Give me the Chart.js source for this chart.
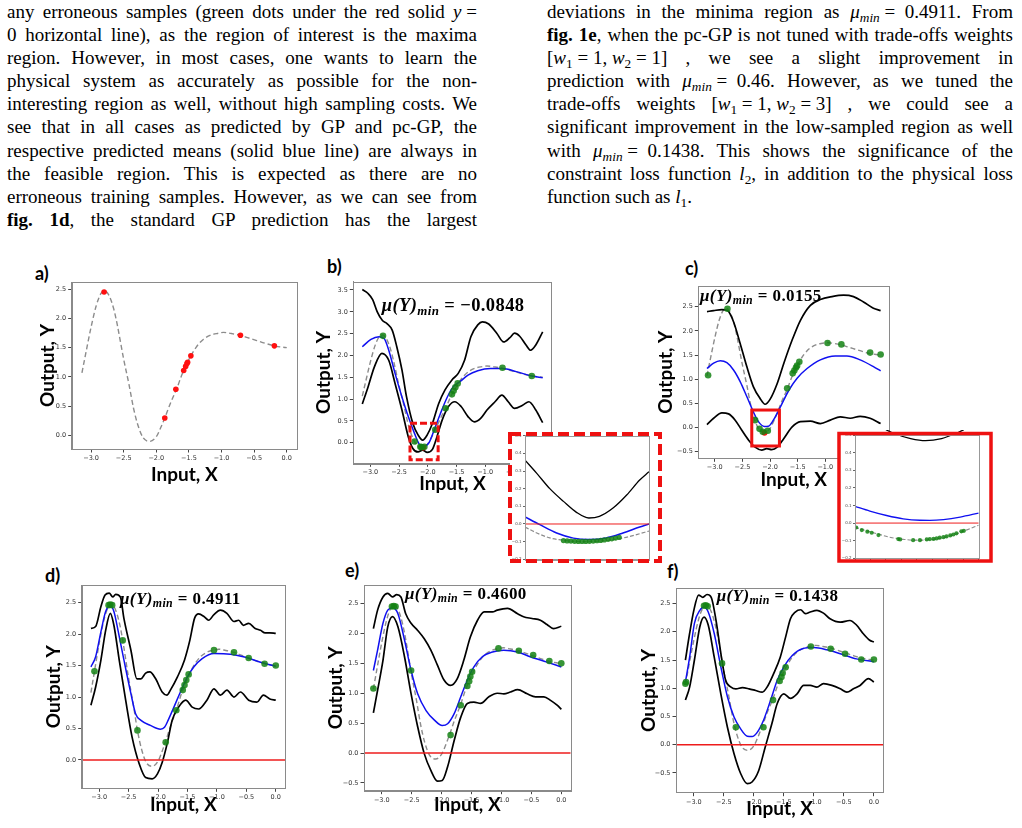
<!DOCTYPE html>
<html><head><meta charset="utf-8">
<script src="https://cdn.jsdelivr.net/npm/chart.js@4/dist/chart.umd.min.js"></script>
<style>
body{margin:0;background:#fff;width:1022px;height:828px;position:relative;overflow:hidden;font-family:'Liberation Serif','Times New Roman',serif;color:#000;}
.col{position:absolute;top:0;font-size:19px;line-height:23.1px;}
.ln{height:23.1px;text-align:justify;text-align-last:justify;}
.ln.last{text-align:left;text-align-last:left;}
.m{display:inline-block;white-space:nowrap;}
sub{font-size:0.7em;line-height:0;vertical-align:-0.28em;}
.plab{position:absolute;font-family:Lato,sans-serif;font-weight:bold;font-size:18px;line-height:18px;}
.ann{position:absolute;font-family:'Liberation Serif',serif;font-weight:bold;white-space:nowrap;line-height:1;letter-spacing:0.4px;}
canvas{position:absolute;}
</style></head><body>
<div class="col" style="left:7px;width:470px;">
<div class="ln">any erroneous samples (green dots under the red solid <span class="m"><i>y</i> =</span></div>
<div class="ln">0 horizontal line), as the region of interest is the maxima</div>
<div class="ln">region. However, in most cases, one wants to learn the</div>
<div class="ln">physical system as accurately as possible for the non-</div>
<div class="ln">interesting region as well, without high sampling costs. We</div>
<div class="ln">see that in all cases as predicted by GP and pc-GP, the</div>
<div class="ln">respective predicted means (solid blue line) are always in</div>
<div class="ln">the feasible region. This is expected as there are no</div>
<div class="ln">erroneous training samples. However, as we can see from</div>
<div class="ln"><b>fig. 1d</b>, the standard GP prediction has the largest</div>
</div>
<div class="col" style="left:547px;width:466px;">
<div class="ln">deviations in the minima region as <span class="m"><i>μ</i><sub><i>min</i></sub> = &nbsp;0.4911.</span> From</div>
<div class="ln"><b>fig. 1e</b>, when the pc-GP is not tuned with trade-offs weights</div>
<div class="ln"><span class="m">[<i>w</i><sub>1</sub> = 1, <i>w</i><sub>2</sub> = 1]</span> , we see a slight improvement in</div>
<div class="ln">prediction with <span class="m"><i>μ</i><sub><i>min</i></sub> = &nbsp;0.46.</span> However, as we tuned the</div>
<div class="ln">trade-offs weights <span class="m">[<i>w</i><sub>1</sub> = 1, <i>w</i><sub>2</sub> = 3]</span> , we could see a</div>
<div class="ln">significant improvement in the low-sampled region as well</div>
<div class="ln">with <span class="m"><i>μ</i><sub><i>min</i></sub> = &nbsp;0.1438.</span> This shows the significance of the</div>
<div class="ln">constraint loss function <span class="m"><i>l</i><sub>2</sub>,</span> in addition to the physical loss</div>
<div class="ln last">function such as <i>l</i><sub>1</sub>.</div>
</div>

<div class="plab" style="left:35px;top:264px;">a)</div>
<div class="plab" style="left:327px;top:257px;">b)</div>
<div class="plab" style="left:685px;top:259px;">c)</div>
<div class="plab" style="left:45px;top:566px;">d)</div>
<div class="plab" style="left:345px;top:561px;">e)</div>
<div class="plab" style="left:667px;top:562px;">f)</div>

<script>
// ---------- data ----------
const xTicks = [-3.0, -2.5, -2.0, -1.5, -1.0, -0.5, 0.0];
const yTicksA = [0.0, 0.5, 1.0, 1.5, 2.0, 2.5];
const yTicksB = [0.0, 0.5, 1.0, 1.5, 2.0, 2.5, 3.0, 3.5];
const yTicksC = [-0.5, 0.0, 0.5, 1.0, 1.5, 2.0, 2.5];
const yTicksD = [0.0, 0.5, 1.0, 1.5, 2.0, 2.5];
const yTicksEF = [-0.5, 0.0, 0.5, 1.0, 1.5, 2.0, 2.5];
const insetYTicks = [-0.2, -0.1, 0.0, 0.1, 0.2, 0.3, 0.4, 0.5];
const insetXTicks = [-2.2, -2.175, -2.15, -2.125, -2.1, -2.075, -2.05, -2.025, -2.0];

const trueFn = [[-3.14,1.07],[-3.08,1.41],[-3.0,1.85],[-2.92,2.22],[-2.85,2.42],[-2.79,2.47],[-2.72,2.38],[-2.65,2.15],[-2.6,1.9],[-2.5,1.3],[-2.42,0.88],[-2.35,0.47],[-2.28,0.17],[-2.2,-0.04],[-2.1,-0.1],[-2.0,-0.02],[-1.93,0.14],[-1.87,0.3],[-1.78,0.56],[-1.69,0.79],[-1.6,1.06],[-1.53,1.23],[-1.47,1.36],[-1.38,1.52],[-1.28,1.64],[-1.15,1.72],[-1.05,1.745],[-0.97,1.76],[-0.85,1.74],[-0.71,1.71],[-0.6,1.67],[-0.46,1.62],[-0.32,1.57],[-0.19,1.53],[-0.08,1.51],[0,1.5]];

const aDots = [[-2.8,2.45],[-1.87,0.3],[-1.7,0.79],[-1.58,1.11],[-1.55,1.18],[-1.53,1.23],[-1.52,1.25],[-1.47,1.36],[-0.71,1.71],[-0.19,1.53]];

const bUpper = [[-3.14,3.51],[-3.04,3.42],[-2.96,3.28],[-2.88,3.0],[-2.79,2.8],[-2.71,2.73],[-2.62,2.58],[-2.54,2.2],[-2.45,1.67],[-2.37,1.05],[-2.26,0.44],[-2.17,0.18],[-2.09,0.06],[-2.01,0.18],[-1.92,0.44],[-1.81,0.9],[-1.7,1.21],[-1.58,1.44],[-1.47,1.59],[-1.36,1.89],[-1.25,2.43],[-1.13,2.7],[-1.05,2.77],[-0.94,2.72],[-0.8,2.51],[-0.68,2.31],[-0.57,2.41],[-0.49,2.51],[-0.4,2.44],[-0.29,2.24],[-0.21,2.12],[-0.12,2.24],[0,2.54]];
const bLower = [[-3.14,0.89],[-3.04,1.28],[-2.93,1.74],[-2.8,2.05],[-2.68,1.89],[-2.57,1.36],[-2.45,0.75],[-2.34,0.14],[-2.26,-0.13],[-2.17,-0.21],[-2.09,-0.17],[-2.01,-0.22],[-1.92,-0.15],[-1.84,0.14],[-1.75,0.52],[-1.64,0.83],[-1.53,0.94],[-1.42,0.83],[-1.3,0.6],[-1.19,0.48],[-1.08,0.56],[-0.97,0.75],[-0.83,0.94],[-0.71,1.09],[-0.6,0.94],[-0.49,0.79],[-0.35,0.86],[-0.24,0.94],[-0.12,0.75],[0,0.46]];
const bMean = [[-3.14,2.2],[-2.99,2.37],[-2.85,2.43],[-2.76,2.39],[-2.68,2.12],[-2.57,1.59],[-2.45,1.05],[-2.34,0.6],[-2.23,0.21],[-2.15,-0.03],[-2.08,-0.085],[-1.98,0.0],[-1.89,0.29],[-1.78,0.67],[-1.67,1.02],[-1.56,1.28],[-1.44,1.4],[-1.3,1.55],[-1.13,1.65],[-0.91,1.7],[-0.7,1.7],[-0.46,1.63],[-0.19,1.53],[0,1.49]];
const bDots = [[-2.78,2.45],[-2.23,0.03],[-2.13,-0.09],[-2.11,-0.1],[-2.06,-0.09],[-1.87,0.3],[-1.69,0.79],[-1.58,1.11],[-1.55,1.19],[-1.52,1.27],[-1.48,1.36],[-0.7,1.72],[-0.19,1.53]];
const bBad = [[-2.08,-0.11]];
const bZoom = [[-2.31,-1.82],[-0.39,0.445]];

const cUpper = [[-3.14,2.4],[-3.02,2.42],[-2.87,2.44],[-2.77,2.42],[-2.66,2.19],[-2.54,1.74],[-2.42,1.26],[-2.3,0.84],[-2.18,0.6],[-2.09,0.48],[-2.0,0.58],[-1.87,0.91],[-1.75,1.33],[-1.6,1.81],[-1.45,2.22],[-1.27,2.53],[-1.09,2.65],[-0.88,2.71],[-0.67,2.74],[-0.49,2.71],[-0.31,2.6],[-0.13,2.47],[0,2.42]];
const cLower = [[-3.14,0.06],[-3.02,0.19],[-2.87,0.3],[-2.75,0.28],[-2.63,0.15],[-2.51,-0.06],[-2.39,-0.26],[-2.27,-0.41],[-2.15,-0.47],[-2.06,-0.44],[-1.97,-0.46],[-1.87,-0.41],[-1.75,-0.23],[-1.6,0.01],[-1.45,0.12],[-1.27,0.13],[-1.09,0.08],[-0.91,0.15],[-0.73,0.22],[-0.55,0.19],[-0.37,0.23],[-0.19,0.19],[0,0.08]];
const cMean = [[-3.14,1.22],[-3.02,1.33],[-2.9,1.38],[-2.78,1.34],[-2.66,1.19],[-2.54,0.95],[-2.42,0.64],[-2.3,0.32],[-2.21,0.12],[-2.1,0.02],[-2.03,0.025],[-1.94,0.15],[-1.81,0.43],[-1.66,0.77],[-1.51,1.02],[-1.33,1.22],[-1.09,1.4],[-0.82,1.48],[-0.61,1.48],[-0.37,1.4],[-0.13,1.26],[0,1.17]];
const cDots = [[-3.12,1.08],[-2.77,2.46],[-2.27,0.15],[-2.19,-0.03],[-2.13,-0.09],[-2.04,-0.07],[-1.69,0.81],[-1.59,1.12],[-1.56,1.18],[-1.53,1.24],[-1.51,1.28],[-1.47,1.36],[-0.96,1.75],[-0.71,1.72],[-0.19,1.55],[0,1.51]];
const cBad = [[-2.1,-0.11]];
const cZoom = [[-2.33,-1.83],[-0.385,0.36]];

const dUpper = [[-3.14,2.09],[-3.06,2.12],[-2.97,2.44],[-2.9,2.62],[-2.83,2.65],[-2.77,2.59],[-2.72,2.63],[-2.64,2.59],[-2.58,2.25],[-2.46,1.74],[-2.36,1.29],[-2.29,1.29],[-2.21,1.38],[-2.14,1.4],[-2.04,1.29],[-1.93,1.08],[-1.85,1.03],[-1.79,1.11],[-1.67,1.32],[-1.55,1.59],[-1.46,1.9],[-1.38,2.25],[-1.31,2.32],[-1.22,2.28],[-1.14,2.22],[-1.05,2.31],[-0.94,2.38],[-0.83,2.33],[-0.71,2.2],[-0.63,2.22],[-0.55,2.14],[-0.46,2.17],[-0.35,2.09],[-0.26,2.06],[-0.18,2.02],[-0.1,2.02],[0,2.01]];
const dLower = [[-3.14,0.87],[-3.06,1.16],[-2.97,1.59],[-2.89,2.06],[-2.81,2.33],[-2.75,2.14],[-2.66,1.59],[-2.55,0.95],[-2.44,0.36],[-2.32,-0.06],[-2.21,-0.28],[-2.1,-0.3],[-2.01,-0.22],[-1.93,-0.04],[-1.84,0.28],[-1.76,0.63],[-1.65,0.84],[-1.53,0.95],[-1.42,0.84],[-1.31,0.81],[-1.17,0.95],[-1.05,1.13],[-0.94,1.03],[-0.83,1.11],[-0.71,1.0],[-0.6,1.08],[-0.46,0.95],[-0.32,0.92],[-0.21,1.03],[-0.1,0.97],[0,0.95]];
const dMean = [[-3.14,1.48],[-3.06,1.64],[-2.97,2.04],[-2.89,2.36],[-2.81,2.45],[-2.75,2.36],[-2.68,2.06],[-2.58,1.59],[-2.46,1.05],[-2.38,0.73],[-2.29,0.63],[-2.13,0.55],[-1.96,0.49],[-1.89,0.52],[-1.82,0.65],[-1.73,0.84],[-1.62,1.08],[-1.5,1.32],[-1.39,1.48],[-1.25,1.61],[-1.05,1.69],[-0.77,1.68],[-0.55,1.64],[-0.21,1.54],[0,1.49]];
const dDots = [[-3.08,1.41],[-2.84,2.46],[-2.81,2.47],[-2.78,2.46],[-2.6,1.9],[-2.35,0.47],[-1.87,0.28],[-1.69,0.79],[-1.58,1.11],[-1.55,1.19],[-1.52,1.27],[-1.48,1.36],[-1.05,1.745],[-0.71,1.71],[-0.46,1.62],[-0.19,1.53],[0,1.5]];

const eUpper = [[-3.14,2.08],[-3.07,2.39],[-2.98,2.61],[-2.9,2.67],[-2.82,2.61],[-2.75,2.65],[-2.68,2.61],[-2.6,2.33],[-2.51,2.17],[-2.4,2.05],[-2.29,1.91],[-2.18,1.72],[-2.07,1.47],[-1.96,1.22],[-1.85,1.13],[-1.74,1.24],[-1.63,1.55],[-1.52,1.94],[-1.4,2.22],[-1.29,2.36],[-1.15,2.36],[-1.07,2.39],[-0.9,2.42],[-0.73,2.33],[-0.63,2.28],[-0.49,2.25],[-0.35,2.22],[-0.24,2.15],[-0.13,2.08],[0,2.12]];
const eLower = [[-3.14,0.67],[-3.07,1.05],[-2.98,1.55],[-2.9,2.11],[-2.82,2.28],[-2.73,2.11],[-2.62,1.61],[-2.51,0.99],[-2.4,0.44],[-2.29,-0.01],[-2.18,-0.29],[-2.07,-0.47],[-1.99,-0.46],[-1.9,-0.23],[-1.79,0.21],[-1.68,0.6],[-1.57,0.83],[-1.46,0.85],[-1.35,0.83],[-1.21,0.94],[-1.07,1.0],[-0.96,0.99],[-0.85,1.02],[-0.73,1.06],[-0.57,0.99],[-0.43,0.94],[-0.29,0.94],[-0.18,0.88],[-0.07,0.8],[0,0.73]];
const eMean = [[-3.14,1.38],[-3.07,1.72],[-2.98,2.17],[-2.9,2.39],[-2.82,2.43],[-2.73,2.33],[-2.62,1.89],[-2.51,1.38],[-2.4,0.99],[-2.26,0.71],[-2.12,0.55],[-1.99,0.46],[-1.9,0.49],[-1.79,0.66],[-1.68,0.94],[-1.57,1.22],[-1.46,1.44],[-1.32,1.61],[-1.15,1.69],[-0.96,1.72],[-0.73,1.69],[-0.52,1.61],[-0.24,1.52],[0,1.44]];
const eDots = [[-3.14,1.08],[-2.83,2.45],[-2.8,2.46],[-2.77,2.45],[-2.51,1.38],[-1.85,0.3],[-1.68,0.8],[-1.57,1.12],[-1.54,1.2],[-1.52,1.28],[-1.49,1.36],[-1.05,1.75],[-0.71,1.71],[-0.47,1.64],[-0.2,1.54],[0,1.5]];

const fUpper = [[-3.14,1.5],[-3.07,1.97],[-3.0,2.38],[-2.92,2.65],[-2.85,2.61],[-2.78,2.66],[-2.71,2.61],[-2.63,2.2],[-2.54,1.55],[-2.47,1.14],[-2.38,1.02],[-2.3,0.99],[-2.19,1.01],[-2.08,0.99],[-1.97,0.96],[-1.86,0.93],[-1.78,1.02],[-1.67,1.26],[-1.56,1.55],[-1.47,1.91],[-1.39,2.23],[-1.31,2.35],[-1.22,2.39],[-1.14,2.32],[-1.06,2.35],[-0.95,2.38],[-0.84,2.33],[-0.73,2.23],[-0.56,2.17],[-0.4,2.2],[-0.29,2.12],[-0.18,1.97],[-0.07,1.85],[0,1.82]];
const fLower = [[-3.14,0.79],[-3.07,1.02],[-2.99,1.5],[-2.9,2.09],[-2.83,2.26],[-2.76,2.12],[-2.66,1.55],[-2.55,0.9],[-2.44,0.31],[-2.33,-0.16],[-2.22,-0.51],[-2.11,-0.69],[-2.03,-0.66],[-1.92,-0.46],[-1.81,-0.04],[-1.7,0.37],[-1.61,0.73],[-1.5,0.9],[-1.39,0.82],[-1.28,0.9],[-1.17,1.05],[-1.06,1.05],[-0.95,1.02],[-0.84,1.08],[-0.7,1.05],[-0.56,0.99],[-0.45,0.93],[-0.34,0.99],[-0.23,1.05],[-0.09,1.17],[0,1.11]];
const fMean = [[-3.14,1.11],[-3.07,1.55],[-2.99,2.15],[-2.9,2.38],[-2.83,2.44],[-2.76,2.35],[-2.66,1.97],[-2.55,1.38],[-2.44,0.85],[-2.33,0.49],[-2.22,0.28],[-2.11,0.15],[-2.03,0.144],[-1.95,0.21],[-1.84,0.43],[-1.72,0.79],[-1.61,1.14],[-1.5,1.38],[-1.36,1.58],[-1.19,1.7],[-1.0,1.72],[-0.78,1.68],[-0.56,1.61],[-0.29,1.52],[0,1.47]];
const fDots = [[-3.14,1.08],[-3.13,1.11],[-2.83,2.46],[-2.8,2.47],[-2.77,2.45],[-2.53,1.44],[-2.3,0.31],[-1.84,0.31],[-1.68,0.79],[-1.57,1.13],[-1.54,1.2],[-1.52,1.27],[-1.47,1.37],[-1.05,1.74],[-0.72,1.7],[-0.48,1.61],[-0.21,1.51],[0,1.51]];

// insets (zoom on the minimum, x from -2.2 to -2.0)
const ibUpper = [[-2.2,0.362],[-2.181,0.287],[-2.16,0.2],[-2.138,0.128],[-2.117,0.066],[-2.097,0.034],[-2.08,0.043],[-2.058,0.09],[-2.036,0.164],[-2.015,0.249],[-2.0,0.296]];
const ibMean = [[-2.2,0.04],[-2.176,-0.004],[-2.149,-0.051],[-2.122,-0.08],[-2.097,-0.088],[-2.069,-0.079],[-2.042,-0.051],[-2.015,-0.017],[-2.0,0.0]];
const ibTrue = [[-2.2,-0.017],[-2.181,-0.051],[-2.16,-0.079],[-2.138,-0.092],[-2.12,-0.098],[-2.1,-0.1],[-2.08,-0.097],[-2.06,-0.09],[-2.04,-0.078],[-2.02,-0.06],[-2.0,-0.04]];
const ibDots = [[-2.138,-0.094],[-2.132,-0.096],[-2.126,-0.097],[-2.12,-0.098],[-2.114,-0.099],[-2.108,-0.099],[-2.102,-0.099],[-2.096,-0.098],[-2.09,-0.097],[-2.084,-0.095],[-2.078,-0.093],[-2.072,-0.09],[-2.066,-0.087],[-2.06,-0.084],[-2.054,-0.08],[-2.048,-0.076]];
const icUpper = [[-2.15,0.53],[-2.138,0.51],[-2.11,0.48],[-2.086,0.468],[-2.06,0.48],[-2.036,0.51],[-2.024,0.53]];
const icMean = [[-2.2,0.095],[-2.176,0.068],[-2.149,0.043],[-2.122,0.024],[-2.095,0.016],[-2.079,0.0155],[-2.057,0.02],[-2.03,0.034],[-2.0,0.057]];
const icTrue = [[-2.2,-0.025],[-2.18,-0.045],[-2.16,-0.065],[-2.14,-0.083],[-2.12,-0.093],[-2.1,-0.097],[-2.08,-0.095],[-2.06,-0.085],[-2.04,-0.066],[-2.02,-0.04],[-2.0,-0.012]];
const icDots = [[-2.198,-0.025],[-2.189,-0.04],[-2.18,-0.049],[-2.173,-0.055],[-2.162,-0.068],[-2.13,-0.091],[-2.127,-0.093],[-2.106,-0.097],[-2.095,-0.097],[-2.084,-0.093],[-2.079,-0.091],[-2.073,-0.09],[-2.068,-0.087],[-2.063,-0.083],[-2.057,-0.08],[-2.052,-0.076],[-2.046,-0.07],[-2.041,-0.065],[-2.036,-0.058],[-2.028,-0.047],[-2.024,-0.044]];

const annTexts = ['−0.0848','0.0155','0.4911','0.4600','0.1438'];

// ---------- rendering ----------
const X_MIN = -3.297, X_MAX = 0.157;
const fmt = v => (Math.abs(v) < 1e-9 ? 0 : v).toFixed(1).replace('-', '\u2212');
const pts = arr => arr.map(([x, y]) => ({x, y}));

const framePlugin = {
  id: 'frame',
  beforeDraw(chart, args, o) {
    if (o.bg) { const c = chart.ctx; c.save(); c.fillStyle = '#fff'; c.fillRect(o.bg[0], o.bg[1], o.bg[2], o.bg[3]); c.restore(); }
  },
  afterDatasetsDraw(chart, args, o) {
    const c = chart.ctx, a = chart.chartArea;
    c.save();
    c.strokeStyle = o.color || '#8a8a8a'; c.lineWidth = 1;
    c.strokeRect(Math.round(a.left) + 0.5, Math.round(a.top) + 0.5, Math.round(a.right - a.left), Math.round(a.bottom - a.top));
    if (o.zoom) {
      const sx = chart.scales.x, sy = chart.scales.y;
      const x0 = sx.getPixelForValue(o.zoom[0][0]), x1 = sx.getPixelForValue(o.zoom[0][1]);
      const y0 = sy.getPixelForValue(o.zoom[1][1]), y1 = sy.getPixelForValue(o.zoom[1][0]);
      c.strokeStyle = '#ee1111'; c.lineWidth = 3; c.setLineDash(o.zoomDash || []);
      c.strokeRect(x0, y0, x1 - x0, y1 - y0);
    }
    c.restore();
  },
  afterDraw(chart, args, o) {
    if (o.border) {
      const c = chart.ctx, b = o.border;
      c.save(); c.strokeStyle = '#ee1111'; c.lineWidth = b[4]; c.setLineDash(b[5] || []);
      c.strokeRect(b[0], b[1], b[2], b[3]); c.restore();
    }
  }
};
Chart.register(framePlugin);

function line(data, color, width, order, extra) {
  return Object.assign({type: 'line', data: pts(data), borderColor: color, borderWidth: width, pointRadius: 0,
    cubicInterpolationMode: 'monotone', fill: false, order}, extra || {});
}
function dots(data, color, r, order) {
  return {type: 'line', data: pts(data), showLine: false, pointRadius: r, pointBackgroundColor: color,
    pointBorderWidth: 0, borderColor: color, order};
}
function zeroLine(x0, x1, w) {
  return line([[x0, 0], [x1, 0]], '#ee1c1c', w, 1, {cubicInterpolationMode: 'default', tension: 0});
}

function mkCanvas(left, top, w, h, z) {
  const cv = document.createElement('canvas');
  cv.width = w; cv.height = h;
  cv.style.left = left + 'px'; cv.style.top = top + 'px'; cv.style.zIndex = z;
  document.body.appendChild(cv);
  return cv;
}

function panel(p) {
  const left = Math.round(p.yTitleCx - 12), top = Math.round(p.box.t - 10);
  const right = Math.round(p.box.r + 14), bottom = Math.round(p.xTitleCy + 12);
  const W = right - left, H = bottom - top;
  const cv = mkCanvas(left, top, W, H, 1);
  const tickFont = {family: 'DejaVu Sans', size: 6.5};
  const titleFont = {family: 'Lato', weight: 'bold', size: 19};
  new Chart(cv, {
    type: 'line',
    data: {datasets: p.datasets},
    options: {
      responsive: false, animation: false, devicePixelRatio: 1,
      layout: {padding: {left: 0, top: p.box.t - top, right: right - p.box.r, bottom: 0}},
      plugins: {legend: {display: false}, tooltip: {enabled: false},
        frame: {zoom: p.zoom, zoomDash: p.zoomDash}},
      scales: {
        x: {type: 'linear', min: X_MIN, max: X_MAX,
          afterBuildTicks: s => { s.ticks = xTicks.map(v => ({value: v})); },
          afterFit: s => { s.height = bottom - p.box.b; },
          ticks: {font: tickFont, color: '#333', padding: 2, maxRotation: 0, autoSkip: false, callback: v => fmt(v)},
          grid: {display: true, drawOnChartArea: false, tickLength: 3.5, color: '#444'},
          border: {display: true, color: '#8a8a8a'},
          title: {display: true, text: 'Input, X', font: titleFont, color: '#000', padding: {top: 0, bottom: 0.6}}},
        y: {type: 'linear', min: p.yMin, max: p.yMax,
          afterBuildTicks: s => { s.ticks = p.yTicks.map(v => ({value: v})); },
          afterFit: s => { s.width = p.box.l - left; },
          ticks: {font: tickFont, color: '#333', padding: 2, autoSkip: false, callback: v => fmt(v)},
          grid: {display: true, drawOnChartArea: false, tickLength: 3.5, color: '#444'},
          border: {display: true, color: '#8a8a8a'},
          title: {display: true, text: 'Output, Y', font: titleFont, color: '#000', padding: {top: 0.6, bottom: 0}}}
      }
    }
  });
}

function inset(p) {
  const cv = mkCanvas(p.left, p.top, p.W, p.H, 5);
  const tickFont = {family: 'DejaVu Sans', size: 4};
  new Chart(cv, {
    type: 'line',
    data: {datasets: p.datasets},
    options: {
      responsive: false, animation: false, devicePixelRatio: 1,
      layout: {padding: {left: 0, top: p.box.t - p.top, right: p.left + p.W - p.box.r, bottom: 0}},
      plugins: {legend: {display: false}, tooltip: {enabled: false},
        frame: {bg: p.bg, border: p.border, color: '#999'}},
      scales: {
        x: {type: 'linear', min: -2.2, max: -2.0,
          afterBuildTicks: s => { s.ticks = insetXTicks.map(v => ({value: v})); },
          afterFit: s => { s.height = p.top + p.H - p.box.b; },
          ticks: {display: p.xTickMarks, font: tickFont, callback: () => ''},
          grid: {display: p.xTickMarks, drawOnChartArea: false, tickLength: 2.5, color: '#666'},
          border: {display: true, color: '#999'}},
        y: {type: 'linear', min: -0.2, max: 0.5,
          afterBuildTicks: s => { s.ticks = insetYTicks.map(v => ({value: v})); },
          afterFit: s => { s.width = p.box.l - p.left; },
          ticks: {font: tickFont, color: '#444', padding: 1.5, autoSkip: false, callback: v => fmt(v)},
          grid: {display: true, drawOnChartArea: false, tickLength: 2, color: '#666'},
          border: {display: true, color: '#999'}}
      }
    }
  });
}

const GRAY = '#8c8c8c', BLUE = '#1010f0', GREEN = 'rgba(20,130,20,0.85)', DASH = {borderDash: [5, 3]};

// a)
panel({box: {l: 71.7, t: 282, r: 297, b: 449}, yMin: -0.23, yMax: 2.62, yTicks: yTicksA, yTitleCx: 47.5, xTitleCy: 475,
  datasets: [line(trueFn, GRAY, 1.4, 4, DASH), dots(aDots, '#ff1010', 2.8, 0)]});
// b)
panel({box: {l: 353.3, t: 281.7, r: 551.7, b: 463.3}, yMin: -0.47, yMax: 3.69, yTicks: yTicksB, yTitleCx: 324, xTitleCy: 484,
  zoom: bZoom, zoomDash: [7, 3],
  datasets: [line(trueFn, GRAY, 1.4, 5, DASH), line(bUpper, '#000', 1.7, 3), line(bLower, '#000', 1.7, 3),
    line(bMean, BLUE, 1.5, 2), dots(bBad, '#ff1010', 3, 1), dots(bDots, GREEN, 3.3, 0)]});
// c)
panel({box: {l: 698.3, t: 286, r: 889.3, b: 458.3}, yMin: -0.64, yMax: 2.93, yTicks: yTicksC, yTitleCx: 665.7, xTitleCy: 480,
  zoom: cZoom, zoomDash: [],
  datasets: [line(trueFn, GRAY, 1.4, 5, DASH), line(cUpper, '#000', 1.7, 3), line(cLower, '#000', 1.7, 3),
    line(cMean, BLUE, 1.5, 2), dots(cBad, '#ff1010', 3, 1), dots(cDots, GREEN, 3.3, 0)]});
// d)
panel({box: {l: 81.7, t: 585, r: 285, b: 788.3}, yMin: -0.45, yMax: 2.78, yTicks: yTicksD, yTitleCx: 54, xTitleCy: 805,
  datasets: [line(trueFn, GRAY, 1.4, 5, DASH), line(dUpper, '#000', 1.7, 3), line(dLower, '#000', 1.7, 3),
    line(dMean, BLUE, 1.5, 2), zeroLine(X_MIN, X_MAX, 1.4), dots(dDots, GREEN, 3.3, 0)]});
// e)
panel({box: {l: 364, t: 585, r: 570.7, b: 790.7}, yMin: -0.63, yMax: 2.81, yTicks: yTicksEF, yTitleCx: 335.8, xTitleCy: 805,
  datasets: [line(trueFn, GRAY, 1.4, 5, DASH), line(eUpper, '#000', 1.7, 3), line(eLower, '#000', 1.7, 3),
    line(eMean, BLUE, 1.5, 2), zeroLine(X_MIN, X_MAX, 1.4), dots(eDots, GREEN, 3.3, 0)]});
// f)
panel({box: {l: 676, t: 588.3, r: 883.3, b: 792.7}, yMin: -0.85, yMax: 2.77, yTicks: yTicksEF, yTitleCx: 649, xTitleCy: 809,
  datasets: [line(trueFn, GRAY, 1.4, 5, DASH), line(fUpper, '#000', 1.7, 3), line(fLower, '#000', 1.7, 3),
    line(fMean, BLUE, 1.5, 2), zeroLine(X_MIN, X_MAX, 1.4), dots(fDots, GREEN, 3.3, 0)]});

// inset for b (dashed red frame)
inset({left: 506, top: 430, W: 158, H: 135, box: {l: 525, t: 435.7, r: 649, b: 559.3}, xTickMarks: false,
  bg: [4, 4, 150, 127], border: [4, 4, 150, 127, 4, [11, 5]],
  datasets: [line(ibTrue, GRAY, 1.2, 5, {borderDash: [4, 2]}), line(ibUpper, '#000', 1.3, 3), line(ibMean, BLUE, 1.5, 2),
    zeroLine(-2.2, -2.0, 1), dots(ibDots, GREEN, 2.6, 0)]});
// inset for c (solid red frame)
inset({left: 835, top: 429, W: 160, H: 136, box: {l: 855, t: 435, r: 978.7, b: 558.3}, xTickMarks: true,
  bg: [4, 4.5, 152, 127.5], border: [4, 4.5, 152, 127.5, 3.5, []],
  datasets: [line(icTrue, GRAY, 1.1, 5, {borderDash: [4, 2]}), line(icUpper, '#000', 1.3, 3, {clip: {left: 0, top: 5, right: 0, bottom: 0}}),
    line(icMean, BLUE, 1.3, 2), zeroLine(-2.2, -2.0, 1), dots(icDots, GREEN, 2.1, 0)]});

// μ(Y)min annotations
const annPos = [[381.7, 296, 18.5], [700, 286.5, 17], [120, 589.5, 17], [405, 585, 17], [716.7, 586.5, 17]];
annPos.forEach((p, i) => {
  const d = document.createElement('div');
  d.className = 'ann';
  d.style.left = p[0] + 'px'; d.style.top = p[1] + 'px'; d.style.fontSize = p[2] + 'px'; d.style.zIndex = 8;
  d.innerHTML = '<i>μ(Y)</i><sub><i>min</i></sub>&nbsp;=&nbsp;' + annTexts[i];
  document.body.appendChild(d);
});
</script>
</body></html>
